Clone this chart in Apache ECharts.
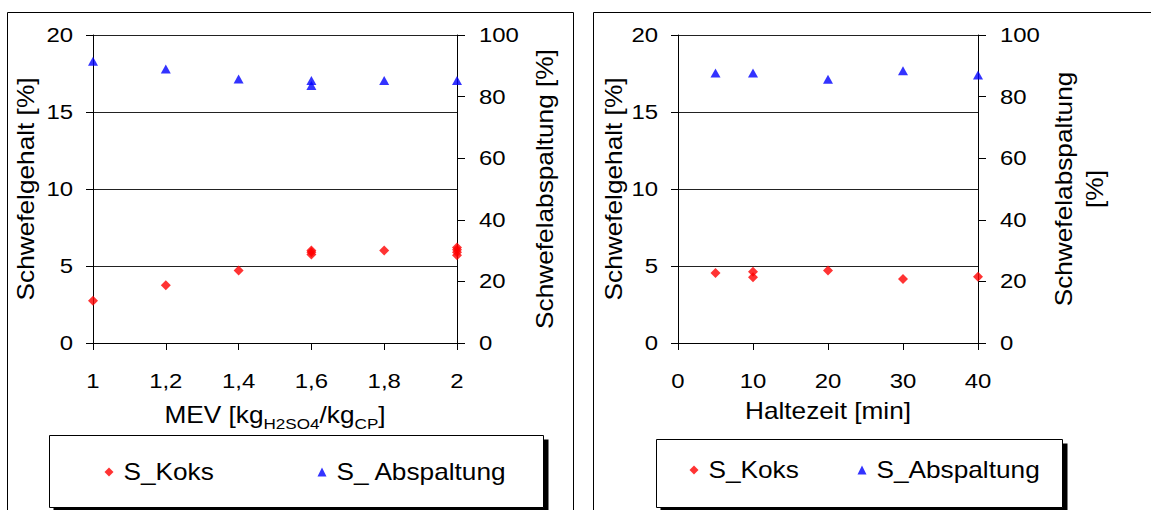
<!DOCTYPE html>
<html>
<head>
<meta charset="utf-8">
<script src="https://cdn.jsdelivr.net/npm/echarts@6/dist/echarts.min.js"></script>
<style>
  html, body { margin: 0; padding: 0; background: #fff; overflow: hidden; }
  #chart { width: 1151px; height: 510px; }
</style>
</head>
<body>
<div id="chart"></div>
<script>
// Left panel: MEV (mass ratio H2SO4 / coke precursor)
const mevKoks   = [1.0, 1.2, 1.4, 1.6, 1.6, 1.6, 1.8, 2.0, 2.0, 2.0, 2.0];
const sKoksMev  = [2.75, 3.75, 4.7, 6.0, 5.9, 5.75, 6.0, 6.2, 6.05, 5.9, 5.7];
const mevAbsp   = [1.0, 1.2, 1.4, 1.6, 1.6, 1.8, 2.0];
const sAbspMev  = [91.5, 89.0, 85.7, 85.2, 83.6, 85.2, 85.2];

// Right panel: holding time in minutes
const zeitKoks  = [5, 10, 10, 20, 30, 40];
const sKoksZeit = [4.55, 4.63, 4.27, 4.7, 4.16, 4.31];
const zeitAbsp  = [5, 10, 20, 30, 40];
const sAbspZeit = [87.7, 87.7, 85.6, 88.4, 87.0];

const seriesNames = { koks: 'S_Koks', abspLeft: 'S_ Abspaltung', abspRight: 'S_Abspaltung' };
const titles = {
  sGehalt: 'Schwefelgehalt [%]',
  sAbsp: 'Schwefelabspaltung [%]',
  sAbsp2: 'Schwefelabspaltung\n[%]',
  zeit: 'Haltezeit [min]',
  mev: '{n|MEV [kg}{s|H2SO4}{n|/kg}{s|CP}{n|]}'
};

// The lettering uses a widened Arial: every glyph run is stretched along its own baseline.
const WIDE = 1.14;
if (echarts.setPlatformAPI) {
  const mctx = document.createElement('canvas').getContext('2d');
  echarts.setPlatformAPI({
    measureText(text, font) {
      mctx.font = font || '12px sans-serif';
      return { width: mctx.measureText(String(text)).width * WIDE };
    }
  });
}
function widenText(root) {
  root.querySelectorAll('svg text').forEach(t => {
    if (t.dataset.wide) return;
    t.dataset.wide = '1';
    const x = parseFloat(t.getAttribute('x') || 0);
    const y = parseFloat(t.getAttribute('y') || 0);
    const tr = t.getAttribute('transform') || '';
    t.setAttribute('transform',
      `${tr} translate(${x} ${y}) scale(${WIDE} 1) translate(${-x} ${-y})`.trim());
  });
}

const FONT = "'Liberation Sans', Arial, sans-serif";
const RED = '#ff0000', BLUE = '#0000ff', INK = '#000';

const zip = (xs, ys) => xs.map((x, i) => [x, ys[i]]);

const tickLabel = { color: INK, fontFamily: FONT, fontSize: 21 };
const nameStyle = { color: INK, fontFamily: FONT, fontSize: 23, lineHeight: 26 };
const lineStyle = { color: INK, width: 1 };

function xAxis(grid, min, max, interval, name, gap, rich, fmt) {
  return {
    gridIndex: grid, type: 'value', min, max, interval,
    name, nameLocation: 'middle', nameGap: gap,
    nameTextStyle: rich ? { rich } : nameStyle,
    axisLine: { show: true, onZero: false, lineStyle },
    axisTick: { show: true, length: 7, lineStyle },
    axisLabel: Object.assign({ margin: 26, formatter: fmt }, tickLabel),
    splitLine: { show: false }
  };
}

function yLeft(grid, gap) {
  return {
    gridIndex: grid, type: 'value', position: 'left', min: 0, max: 20, interval: 5,
    name: titles.sGehalt, nameLocation: 'middle', nameGap: gap, nameTextStyle: nameStyle,
    axisLine: { show: true, lineStyle },
    axisTick: { show: true, length: 7, lineStyle },
    axisLabel: Object.assign({ margin: 20 }, tickLabel),
    splitLine: { show: true, lineStyle: { color: '#222', width: 1 } }
  };
}

function yRight(grid, name, gap, lh) {
  return {
    gridIndex: grid, type: 'value', position: 'right', min: 0, max: 100, interval: 20,
    name, nameLocation: 'middle', nameGap: gap,
    nameTextStyle: Object.assign({}, nameStyle, { align: 'center', lineHeight: lh }),
    axisLine: { show: true, lineStyle },
    axisTick: { show: true, length: 8, lineStyle },
    axisLabel: Object.assign({ margin: 22 }, tickLabel),
    splitLine: { show: false }
  };
}

const diamondSize = [10, 10];
const triangleSize = [10, 9];

function scatter(name, xi, yi, data, symbol, size, color) {
  return {
    type: 'scatter', name, xAxisIndex: xi, yAxisIndex: yi, data,
    symbol, symbolSize: size, itemStyle: { color }, z: 5, silent: true
  };
}

function legendItem(name, icon, left, top) {
  return {
    data: [{ name, icon }], left, top, padding: 0,
    orient: 'horizontal', selectedMode: false,
    itemWidth: 9, itemHeight: 9,
    textStyle: { color: INK, fontFamily: FONT, fontSize: 23, lineHeight: 26, padding: [0, 0, 0, 5] }
  };
}

function frameRect(x, y, w, h) {
  return { type: 'rect', z: 0, silent: true, shape: { x, y, width: w, height: h },
           style: { fill: 'transparent', stroke: INK, lineWidth: 1 } };
}
function legendBox(x, y, w, h) {
  return [
    { type: 'rect', z: 1, silent: true, shape: { x: x + 4, y: y + 4, width: w + 1, height: h },
      style: { fill: INK } },
    { type: 'rect', z: 2, silent: true, shape: { x, y, width: w, height: h },
      style: { fill: '#fff', stroke: INK, lineWidth: 1 } }
  ];
}

const mevRich = {
  n: { fontSize: 23, fontFamily: FONT, color: INK },
  s: { fontSize: 15, fontFamily: FONT, color: INK, padding: [16, 0, 0, 0] }
};

const el = document.getElementById('chart');
const chart = echarts.init(el, null, { renderer: 'svg' });
chart.setOption({
  animation: false,
  backgroundColor: '#fff',
  grid: [
    { left: 93, top: 35, width: 457 - 93, height: 308 },
    { left: 678, top: 35, width: 978 - 678, height: 308 }
  ],
  xAxis: [
    xAxis(0, 1, 2, 0.2, titles.mev, 56, mevRich,
          v => String(Math.round(v * 10) / 10).replace('.', ',')),
    xAxis(1, 0, 40, 10, titles.zeit, 46, null, v => String(v))
  ],
  yAxis: [
    yLeft(0, 54),
    yRight(0, titles.sAbsp, 75, 26),
    yLeft(1, 50),
    yRight(1, titles.sAbsp2, 71, 31)
  ],
  legend: [
    legendItem(seriesNames.koks, 'diamond', 104.5, 459),
    legendItem(seriesNames.abspLeft, 'triangle', 317.5, 459),
    legendItem(seriesNames.koks, 'diamond', 689.5, 457),
    legendItem(seriesNames.abspRight, 'triangle', 857.5, 457)
  ],
  graphic: [
    frameRect(7.5, 12.5, 566, 520),
    frameRect(593.5, 12.5, 600, 520),
    ...legendBox(49.5, 435.5, 494, 72),
    ...legendBox(656.5, 439.5, 406, 68)
  ],
  series: [
    scatter(seriesNames.koks, 0, 0, zip(mevKoks, sKoksMev), 'diamond', diamondSize, RED),
    scatter(seriesNames.abspLeft, 0, 1, zip(mevAbsp, sAbspMev), 'triangle', triangleSize, BLUE),
    scatter(seriesNames.koks, 1, 2, zip(zeitKoks, sKoksZeit), 'diamond', diamondSize, RED),
    scatter(seriesNames.abspRight, 1, 3, zip(zeitAbsp, sAbspZeit), 'triangle', triangleSize, BLUE)
  ]
});
chart.getZr().refreshImmediately();
widenText(el);
</script>
</body>
</html>
